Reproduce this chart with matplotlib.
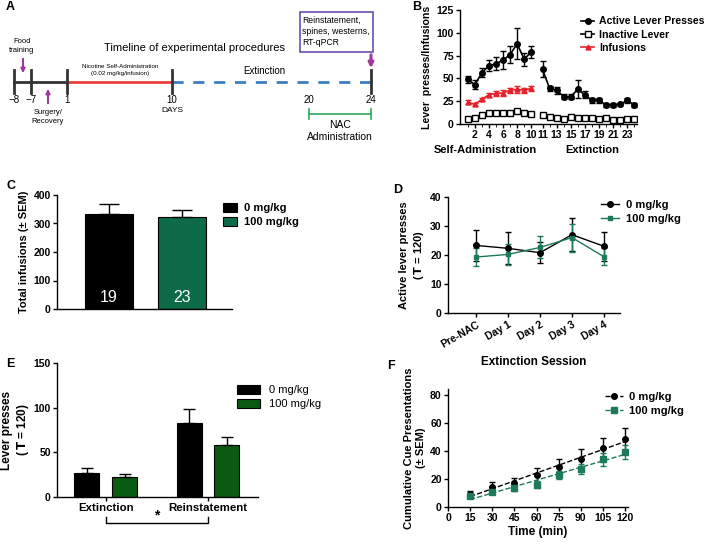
import numpy as np
import matplotlib
matplotlib.use("Agg")
import matplotlib.pyplot as plt
from matplotlib.patches import Rectangle
from matplotlib.lines import Line2D

plt.rcParams['font.family'] = ['Liberation Sans', 'DejaVu Sans']
plt.rcParams['font.weight'] = 'bold'
plt.rcParams['axes.linewidth'] = 1.0

# ---- panel B data ----
sa_days = np.arange(1, 11)
ext_days = np.arange(11, 25)
active_sa = [49, 43, 56, 64, 66, 70, 76, 88, 71, 79]
active_sa_err = [4, 5, 5, 6, 7, 10, 9, 17, 7, 7]
active_ext = [60, 39, 37, 30, 30, 38, 32, 26, 26, 21, 21, 21.5, 26, 21]
active_ext_err = [9, 3, 4, 3, 3, 10, 4, 3, 3, 2, 2, 2, 3, 2]
infusions_sa = [24, 21.5, 27, 32, 33.5, 34, 37, 38, 37, 39]
infusions_sa_err = [2, 2, 2, 2, 3, 3, 3, 4, 3, 3]
inactive_sa = [6, 7, 10, 12, 12, 12, 12, 14, 12, 11]
inactive_ext = [9.5, 8, 7, 6, 8, 6.5, 6.5, 6.5, 6, 7, 4, 4, 5, 5]

# ---- panel C data ----
doses = ['0 mg/kg', '100 mg/kg']
total_inf = [332, 324]
total_inf_err = [37, 25]
n_rats = [19, 23]

# ---- panel D data ----
sessions = ['Pre-NAC', 'Day 1', 'Day 2', 'Day 3', 'Day 4']
d_veh = [23.3, 22.3, 20.8, 27.0, 23.0]
d_veh_err = [5.4, 5.5, 3.7, 5.6, 5.0]
d_nac = [19.3, 20.2, 22.6, 26.0, 19.4]
d_nac_err = [3.0, 3.5, 3.8, 4.8, 3.0]

# ---- panel E data ----
phases = ['Extinction', 'Reinstatement']
e_veh = [26.9, 82.8]
e_veh_err = [6, 15.5]
e_nac = [22.0, 58.2]
e_nac_err = [3.5, 9]

# ---- panel F data ----
times = np.array([15, 30, 45, 60, 75, 90, 105, 120])
f_veh = np.array([9.4, 13.9, 17.0, 22.9, 28.3, 34.2, 41.8, 48.4])
f_veh_err = [2, 3.6, 4, 5, 6, 7, 7, 7.6]
f_nac = np.array([8.0, 10.4, 13.5, 15.8, 22.9, 27.1, 34.0, 39.4])
f_nac_err = [1, 1.5, 2, 2.5, 3, 3.5, 4.5, 5]

# ---- panel A timeline ----
tl_days = ['\u22128', '\u22127', '1', '10', '20', '24']
tl_x = [14, 31, 67, 172, 309, 371]   # schematic positions (px)

green_c = '#0e6b47'
green_d = '#1d7a58'
green_e = '#0b5a12'
red_b = '#e8202a'
purple = '#9c3a9c'

TICK = 7.5
LAB = 8
LEG = 8

fig = plt.figure(figsize=(7.09, 5.42), dpi=100)

W, H = 709, 542
def ax_px(l, t, r, b):
    return fig.add_axes([l / W, 1 - b / H, (r - l) / W, (b - t) / H])

def style(ax):
    for s in ['top', 'right']:
        ax.spines[s].set_visible(False)
    ax.tick_params(labelsize=TICK, width=1, length=3, pad=1.5)
    for lab in ax.get_xticklabels() + ax.get_yticklabels():
        lab.set_fontweight('bold')

def bold_legend(leg, weight='bold'):
    for t in leg.get_texts():
        t.set_fontweight(weight)

# ================= A =================
axA = fig.add_axes([0, 1 - 180 / H, 380 / W, 180 / H])
axA.set_xlim(0, 380)
axA.set_ylim(180, 0)
axA.axis('off')
yl = 82
axA.plot([tl_x[0], tl_x[2]], [yl, yl], color='#333333', lw=2)
axA.plot([tl_x[2], tl_x[3]], [yl, yl], color='#e8413c', lw=2)
axA.plot([tl_x[3], tl_x[5]], [yl, yl], color='#3b7dc5', lw=2, dashes=(4, 3.5))
for x, lab in zip(tl_x, tl_days):
    if lab != '20':
        axA.plot([x, x], [70, 93], color='#333333', lw=2)
    axA.text(x, 100, lab, ha='center', va='center', fontsize=7, fontweight='normal')
axA.text(tl_x[3], 111, 'DAYS', ha='center', va='center', fontsize=6, fontweight='normal')
axA.text(194, 48, 'Timeline of experimental procedures', ha='center', va='center',
         fontsize=8, fontweight='normal')
axA.text(120, 67, 'Nicotine Self-Administration', ha='center', va='center', fontsize=4.5, fontweight='normal')
axA.text(120, 74, '(0.02 mg/kg/infusion)', ha='center', va='center', fontsize=4.5, fontweight='normal')
axA.text(264, 71, 'Extinction', ha='center', va='center', fontsize=7, fontweight='normal')
axA.text(22, 46, 'Food\ntraining', ha='center', va='center', fontsize=5.5, fontweight='normal',
         linespacing=1.3)
axA.annotate('', xy=(23, 76), xytext=(23, 56),
             arrowprops=dict(arrowstyle='-|>', color=purple, lw=1.5, mutation_scale=6))
axA.annotate('', xy=(48, 86), xytext=(48, 106),
             arrowprops=dict(arrowstyle='-|>', color=purple, lw=1.5, mutation_scale=6))
axA.text(48, 117, 'Surgery/\nRecovery', ha='center', va='center', fontsize=5.5, fontweight='normal',
         linespacing=1.3)
axA.plot([309, 371], [114, 114], color='#2eaa5c', lw=1.2)
axA.plot([309, 309], [109, 119], color='#2eaa5c', lw=1.2)
axA.plot([371, 371], [109, 119], color='#2eaa5c', lw=1.2)
axA.text(340, 131, 'NAC\nAdministration', ha='center', va='center', fontsize=7.5, fontweight='normal',
         linespacing=1.2)
axA.add_patch(Rectangle((300, 12), 73, 40, fill=False, edgecolor='#6a4fb0', lw=1.2))
axA.text(302, 31, 'Reinstatement,\nspines, westerns,\nRT-qPCR', ha='left', va='center',
         fontsize=6.2, fontweight='normal', linespacing=1.3)
axA.annotate('', xy=(371, 71), xytext=(371, 52),
             arrowprops=dict(arrowstyle='-|>', color=purple, lw=2.2, mutation_scale=7))
fig.text(6 / W, 1 - 7 / H, 'A', fontsize=9, fontweight='bold', va='center')

# ================= B =================
axB = ax_px(460, 10, 637, 124)
gap = 0.6
ext_pos = ext_days + gap
axB.errorbar(sa_days, active_sa, yerr=active_sa_err, color='black', marker='o', ms=4,
             lw=1.2, capsize=2.5, elinewidth=1)
axB.errorbar(ext_pos, active_ext, yerr=active_ext_err, color='black', marker='o', ms=4,
             lw=1.2, capsize=2.5, elinewidth=1)
axB.plot(sa_days, inactive_sa, color='black', marker='s', ms=4, mfc='white', lw=0, mew=1)
axB.plot(ext_pos, inactive_ext, color='black', marker='s', ms=4, mfc='white', lw=0, mew=1)
axB.errorbar(sa_days, infusions_sa, yerr=infusions_sa_err, color=red_b, marker='^', ms=3.5,
             lw=1.2, capsize=2.5, elinewidth=1)
axB.set_xlim(-0.1, 25.0)
axB.set_ylim(0, 125)
axB.set_yticks([0, 25, 50, 75, 100, 125])
xt = [2, 4, 6, 8, 10] + list(range(11, 24, 2))
axB.set_xticks([d if d <= 10 else d + gap for d in xt])
axB.set_xticklabels([str(d) for d in xt])
axB.set_xticks(list(sa_days) + list(ext_pos), minor=True)
axB.tick_params(axis='x', which='minor', length=2)
axB.set_ylabel('Lever  presses/Infusions', fontsize=7.6, fontweight='bold', labelpad=3)
style(axB)
hB = [Line2D([], [], color='black', marker='o', ms=4, lw=1.2),
      Line2D([], [], color='black', marker='s', ms=4, mfc='white', lw=1.2),
      Line2D([], [], color=red_b, marker='^', ms=3.5, lw=1.2)]
legB = axB.legend(hB, ['Active Lever Presses', 'Inactive Lever', 'Infusions'],
                  loc='upper left', bbox_to_anchor=(0.655, 0.99), fontsize=7.6, frameon=False,
                  handlelength=1.2, handletextpad=0.5, labelspacing=0.3, borderpad=0)
bold_legend(legB)
fig.text(485 / W, 1 - 150 / H, 'Self-Administration', ha='center', va='center', fontsize=8,
         fontweight='bold')
fig.text(592 / W, 1 - 150 / H, 'Extinction', ha='center', va='center', fontsize=8,
         fontweight='bold')
fig.text(412 / W, 1 - 7 / H, 'B', fontsize=9, fontweight='bold', va='center')

# ================= C =================
axC = ax_px(57, 195, 232, 309)
xc = np.arange(len(doses))
barsC = axC.bar(xc, total_inf, width=0.66, color=['black', green_c], edgecolor='black', lw=0.8)
axC.errorbar(xc, total_inf, yerr=[[0, 0], total_inf_err], fmt='none', ecolor='black',
             capsize=7, elinewidth=1, capthick=1)
for x, n in zip(xc, n_rats):
    axC.text(x, 42, str(n), ha='center', va='center', color='white', fontsize=11.5,
             fontweight='normal')
axC.set_xlim(-0.71, 1.68)
axC.set_ylim(0, 400)
axC.set_yticks([0, 100, 200, 300, 400])
axC.set_xticks([])
axC.set_ylabel('Total infusions (\u00b1 SEM)', fontsize=LAB, fontweight='bold', labelpad=3)
style(axC)
legC = fig.legend([barsC[0], barsC[1]], doses, loc='upper left',
                  bbox_to_anchor=(217 / W, 1 - 197 / H), fontsize=LEG, frameon=False,
                  handlelength=1.3, handleheight=0.9, handletextpad=0.6, labelspacing=0.35,
                  borderpad=0)
bold_legend(legC)
fig.text(6 / W, 1 - 186 / H, 'C', fontsize=9, fontweight='bold', va='center')

# ================= D =================
axD = ax_px(448, 197, 620, 313)
xd = np.arange(len(sessions))
axD.errorbar(xd, d_veh, yerr=d_veh_err, color='black', marker='o', ms=4, lw=1,
             capsize=2.5, elinewidth=1)
axD.errorbar(xd, d_nac, yerr=d_nac_err, color=green_d, marker='s', ms=3.5, lw=1,
             capsize=2.5, elinewidth=1)
axD.set_xlim(-0.875, 4.5)
axD.set_ylim(0, 40)
axD.set_yticks([0, 10, 20, 30, 40])
axD.set_xticks(xd)
axD.set_xticklabels(sessions, rotation=30, ha='right', rotation_mode='anchor')
axD.set_ylabel('Active lever presses\n(\u2009$\\mathbf{T}$ = 120)', fontsize=LAB,
               fontweight='bold', labelpad=3, linespacing=1.3)
axD.set_xlabel('Extinction Session', fontsize=8.5, fontweight='bold', labelpad=5)
style(axD)
hD = [Line2D([], [], color='black', marker='o', ms=4, lw=1),
      Line2D([], [], color=green_d, marker='s', ms=3.5, lw=1)]
legD = axD.legend(hD, doses, loc='upper left', bbox_to_anchor=(0.86, 1.02), fontsize=LEG,
                  frameon=False, handlelength=1.6, handletextpad=0.6, labelspacing=0.35,
                  borderpad=0)
bold_legend(legD)
fig.text(393 / W, 1 - 190 / H, 'D', fontsize=9, fontweight='bold', va='center')

# ================= E =================
axE = ax_px(57, 363, 258, 497)
xe = np.arange(len(phases))
off = 0.186
wE = 0.245
b0 = axE.bar(xe - off, e_veh, width=wE, color='black', edgecolor='black', lw=0.8)
b1 = axE.bar(xe + off, e_nac, width=wE, color=green_e, edgecolor='black', lw=0.8)
axE.errorbar(xe - off, e_veh, yerr=[[0, 0], e_veh_err], fmt='none', ecolor='black',
             capsize=4, elinewidth=1, capthick=1)
axE.errorbar(xe + off, e_nac, yerr=[[0, 0], e_nac_err], fmt='none', ecolor='black',
             capsize=4, elinewidth=1, capthick=1)
axE.set_xlim(-0.48, 1.49)
axE.set_ylim(0, 150)
axE.set_yticks([0, 50, 100, 150])
axE.set_xticks(xe)
axE.set_xticklabels(phases)
axE.set_ylabel('Lever presses\n(\u2009$\\mathbf{T}$ = 120)', fontsize=8.5, fontweight='bold',
               labelpad=2, linespacing=1.2)
style(axE)
for lab in axE.get_xticklabels():
    lab.set_fontsize(8.2)
legE = axE.legend([b0, b1], doses, loc='upper left', bbox_to_anchor=(0.87, 0.88),
                  fontsize=LEG, frameon=False, handlelength=2.0, handleheight=0.9,
                  handletextpad=0.8, labelspacing=0.35, borderpad=0)
bold_legend(legE, 'normal')
# significance bracket below axis
axE.plot([0, 0, 1, 1], [-22, -29, -29, -22], color='black', lw=1, clip_on=False)
axE.text(0.5, -21, '*', ha='center', va='center', fontsize=10, fontweight='bold')
fig.text(6 / W, 1 - 364 / H, 'E', fontsize=9, fontweight='bold', va='center')

# ================= F =================
axF = ax_px(448, 389, 628, 507)
axF.errorbar(times, f_veh, yerr=f_veh_err, color='black', marker='o', ms=4, lw=0,
             capsize=2.5, elinewidth=1)
axF.errorbar(times, f_nac, yerr=f_nac_err, color=green_d, marker='s', ms=4, lw=0,
             capsize=2.5, elinewidth=1)
k0 = np.polyfit(times, f_veh, 1)
k1 = np.polyfit(times, f_nac, 1)
axF.plot(times, np.polyval(k0, times), color='black', ls='--', lw=1)
axF.plot(times, np.polyval(k1, times), color=green_d, ls='--', lw=1)
axF.set_xlim(0, 122)
axF.set_ylim(0, 84)
axF.set_xticks(range(0, 121, 15))
axF.set_yticks([0, 20, 40, 60, 80])
axF.set_xlabel('Time (min)', fontsize=8.5, fontweight='bold', labelpad=2)
axF.set_ylabel('Cumulative Cue Presentations\n(\u00b1 SEM)', fontsize=8, fontweight='bold',
               labelpad=3, linespacing=1.3)
style(axF)
hF = [Line2D([], [], color='black', ls='--', lw=1, marker='o', ms=4),
      Line2D([], [], color=green_d, ls='--', lw=1, marker='s', ms=4)]
legF = axF.legend(hF, doses, loc='upper left', bbox_to_anchor=(0.84, 1.02), fontsize=LEG,
                  frameon=False, handlelength=1.6, handletextpad=0.6, labelspacing=0.35,
                  borderpad=0)
bold_legend(legF)
fig.text(387 / W, 1 - 366 / H, 'F', fontsize=9, fontweight='bold', va='center')

fig.savefig('out.png', dpi=100)
